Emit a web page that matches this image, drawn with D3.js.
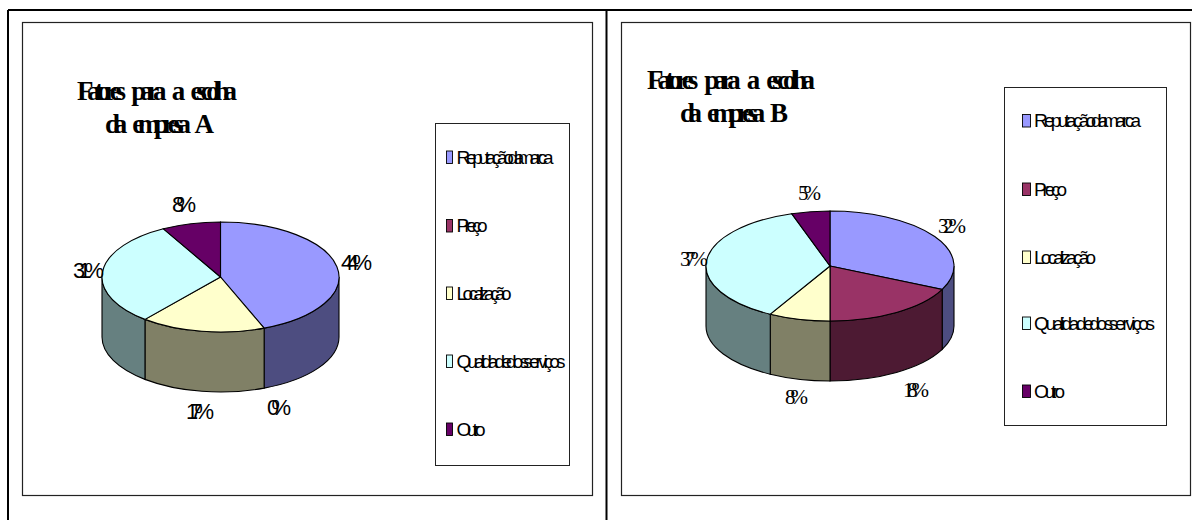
<!DOCTYPE html>
<html><head><meta charset="utf-8">
<script src="https://cdnjs.cloudflare.com/ajax/libs/d3/7.8.5/d3.min.js"></script>
<style>html,body{margin:0;padding:0;background:#fff}svg{display:block}</style>
</head><body><svg id="c" width="1192" height="520"></svg>
<script>
const categories = ["Reputação da marca","Preço","Localização","Qualidade dos serviços","Outro"];
const valuesA = [44,0,17,31,8];
const valuesB = [32,18,8,37,5];
const topColors = ["#9999FF","#993366","#FFFFCC","#CCFFFF","#660066"];
const sideColors = ["#4D4D80","#4D1A33","#808066","#668080","#330033"];

const panels = [
 {values:valuesA, title:["Fatores para a escolha","da empresa A"],
  box:[22,22,592,495], legend:[435,123,569,465], cx:220.5, cy:277, rx:118.5, ry:55, depth:60,
  titlePos:[[77,99.5,160],[105,133,109]], labelFont:"'Liberation Sans'", labelSize:22,
  labelPos:[[356.5,270],[279,415],[200,419],[88.5,278],[184,212]],
  labelW:[31,24,28,31,24],
  swatchX:446, swatchW:6, textX:456.5, legY:[157,225.5,293,361,429], legW:[97,31,55,109,29]},
 {values:valuesB, title:["Fatores para a escolha","da empresa B"],
  box:[621,22,1190,495], legend:[1004,87,1166,425], cx:830, cy:266, rx:124, ry:55, depth:60,
  titlePos:[[647,89,168],[680,122,108]], labelFont:"'Liberation Serif'", labelSize:21,
  labelPos:[[952,233],[916,397],[796.5,404],[694,266],[809.5,200]],
  labelW:[28,26,23,28,23],
  swatchX:1022, swatchW:8, textX:1034, legY:[120.5,189,257,323,391], legW:[107,33,62,121,31]}
];

const svg = d3.select("#c");
[[8,10,1192,10],[8,10,8,520],[606.5,10,606.5,520]].forEach(l=>svg.append("line")
  .attr("x1",l[0]).attr("y1",l[1]).attr("x2",l[2]).attr("y2",l[3])
  .attr("stroke","#000").attr("stroke-width",2));

const pie = d3.pie().sort(null).value(d=>d);

// squeeze a text to a visible width, keeping a chosen word gap
function fit(sel,width,wordGap){
  const node=sel.node(), s=sel.text(), natural=node.getComputedTextLength();
  const spaces=(s.match(/ /g)||[]).length;
  const ls=(width-natural-wordGap*spaces)/(s.length-1);
  sel.style("letter-spacing",ls+"px").style("word-spacing",wordGap+"px");
}

panels.forEach(p=>{
  const g = svg.append("g");
  const rect = (b,sw)=>g.append("rect").attr("x",b[0]+.5).attr("y",b[1]+.5)
     .attr("width",b[2]-b[0]).attr("height",b[3]-b[1]).attr("fill","#fff")
     .attr("stroke","#222").attr("stroke-width",sw);
  rect(p.box,1.2);
  p.title.forEach((t,i)=>{const q=p.titlePos[i];
    g.append("text").text(t).attr("x",q[0]).attr("y",q[1])
     .attr("font-family","'Liberation Serif'").attr("font-weight","bold").attr("font-size",27)
     .attr("fill","#000").call(fit,q[2],11);});
  rect(p.legend,1);

  const pt = a=>[p.cx+p.rx*Math.sin(a), p.cy-p.ry*Math.cos(a)];
  const arcs = pie(p.values);
  const topPath = d=>{
    const s=pt(d.startAngle), e=pt(d.endAngle), large=(d.endAngle-d.startAngle)>Math.PI?1:0;
    return `M${p.cx},${p.cy}L${s[0]},${s[1]}A${p.rx},${p.ry} 0 ${large} 1 ${e[0]},${e[1]}Z`;
  };
  const sidePath = d=>{
    const a0=Math.max(d.startAngle,Math.PI/2), a1=Math.min(d.endAngle,Math.PI*1.5);
    if(a1<=a0) return null;
    const s=pt(a0), e=pt(a1);
    return `M${s[0]},${s[1]}A${p.rx},${p.ry} 0 0 1 ${e[0]},${e[1]}L${e[0]},${e[1]+p.depth}A${p.rx},${p.ry} 0 0 0 ${s[0]},${s[1]+p.depth}Z`;
  };
  g.selectAll("path.side").data(arcs.filter(d=>sidePath(d)&&d.value>0)).join("path").attr("class","side")
    .attr("d",sidePath).attr("fill",d=>sideColors[d.index]).attr("stroke","#000").attr("stroke-width",1.1);
  g.selectAll("path.top").data(arcs.filter(d=>d.value>0)).join("path").attr("class","top")
    .attr("d",topPath).attr("fill",d=>topColors[d.index]).attr("stroke","#000").attr("stroke-width",1.1);

  p.values.forEach((v,i)=>{
    g.append("text").attr("class","lab").text(v+"%")
     .attr("x",p.labelPos[i][0]-p.labelW[i]/2).attr("y",p.labelPos[i][1])
     .attr("font-family",p.labelFont).attr("font-size",p.labelSize).attr("fill","#000")
     .call(fit,p.labelW[i],0);
  });

  categories.forEach((c,i)=>{
    g.append("rect").attr("x",p.swatchX+.5).attr("y",p.legY[i]-6).attr("width",p.swatchW).attr("height",12.5)
      .attr("fill",topColors[i]).attr("stroke","#000").attr("stroke-width",.9);
    g.append("text").text(c).attr("x",p.textX).attr("y",p.legY[i]+6.5)
      .attr("font-family","'Liberation Sans'").attr("font-size",19).attr("fill","#000")
      .call(fit,p.legW[i],-3);
  });
});
</script></body></html>
